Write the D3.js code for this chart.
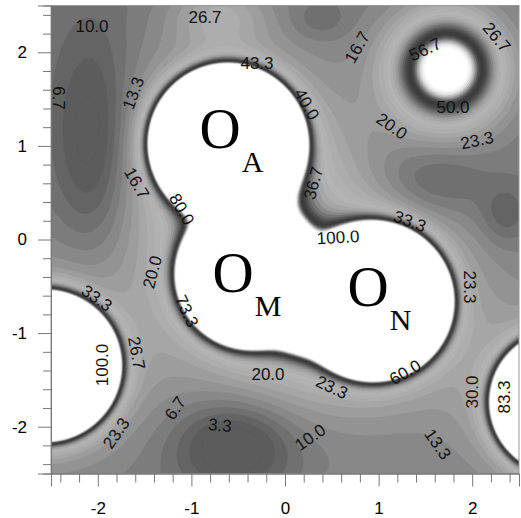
<!DOCTYPE html>
<html>
<head>
<meta charset="utf-8">
<script src="https://cdn.jsdelivr.net/npm/d3@7"></script>
<style>
  body { margin: 0; background: white; }
  svg text { font-family: "Liberation Sans", Arial, Helvetica, sans-serif; }
</style>
</head>
<body>
<div id="chart"></div>
<script>
// axis ticks
const xTicks = [-2, -1, 0, 1, 2];
const yTicks = [-2, -1, 0, 1, 2];

// white plateaus (atoms + bridges), data units
const blobX = [-0.61, -0.38, 0.95, -0.41, 0.26, -2.56, 2.96];
const blobY = [1.03, -0.38, -0.66, 0.37, -0.65, -1.35, -1.74];
const blobR = [0.83, 0.76, 0.83, 0.42, 0.53, 0.79, 0.75];

// small isolated peak, top right
const peakX = [1.725];
const peakY = [1.82];
const peakH = [85];
const peakS = [0.44];

// broad background humps and dips
const bumpX = [-0.70, -2.05, -0.55, 0.90, 1.54, 2.35, 0.37, 1.725];
const bumpY = [2.40, 1.05, -2.20, -3.21, 0.63, 0.26, 2.34, 1.82];
const bumpSx = [0.5, 0.42, 0.6, 0.55, 0.6, 0.25, 0.3, 0.75];
const bumpSy = [0.35, 1.1, 0.45, 0.5, 0.4, 0.3, 0.2, 0.75];
const bumpA = [14, -16, -18, 30, -10, -8, -5, 22];
const baseLevel = 9;

// gray shading of the value bands
const shadeValues = [0, 5, 10, 15, 20, 25, 30, 35, 40, 46, 52, 58, 64, 70, 76, 82, 88, 94, 100];
const shadeGrays = [88, 100, 118, 136, 152, 166, 176, 180, 172, 150, 115, 82, 62, 62, 95, 165, 222, 250, 255];

// contour labels: text, x, y (pixel positions), angle
const labelText = ["10.0", "26.7", "43.3", "6.7", "13.3", "16.7", "80.0",
  "16.7", "56.7", "26.7", "40.0", "20.0", "50.0", "23.3", "36.7", "33.3", "100.0",
  "20.0", "33.3", "73.3", "26.7", "100.0", "23.3", "6.7", "3.3",
  "20.0", "23.3", "60.0", "10.0", "13.3", "23.3", "30.0", "83.3"];
const labelPx = [92, 205, 257, 59, 133, 137, 182,
  357, 425, 497, 307, 392, 453, 477, 313, 410, 338,
  152, 97, 187, 137, 102, 116, 175, 220,
  268, 332, 405, 310, 438, 470, 472, 504];
const labelPy = [26, 17, 63, 98, 93, 183, 209,
  47, 49, 37, 104, 126, 107, 140, 183, 221, 237,
  272, 298, 311, 353, 365, 433, 408, 425,
  374, 387, 372, 437, 444, 287, 392, 397];
const labelAngle = [0, 0, 0, 90, -70, 60, 60,
  -60, -25, 50, 60, 35, 0, -12, -75, 20, -3,
  -75, 35, 65, 80, -90, -55, -55, 5,
  0, 25, -30, -35, 55, 90, -90, -90];

// atom labels: left/baseline of the "O" (data units)
const atomText = ["O", "O", "O"];
const atomSub = ["A", "M", "N"];
const atomX = [-0.913, -0.775, 0.668];
const atomY = [0.975, -0.563, -0.713];

const width = 521, height = 518;
const margin = {left: 51, top: 5.5, right: 2, bottom: 44.5};
const plotW = width - margin.left - margin.right;
const plotH = height - margin.top - margin.bottom;

const x = d3.scaleLinear().domain([-2.5, 2.5]).range([margin.left, margin.left + plotW]);
const y = d3.scaleLinear().domain([-2.5, 2.5]).range([margin.top + plotH, margin.top]);

// pixel -> data for the label tables
const labelX = labelPx.map(p => x.invert(p));
const labelY = labelPy.map(p => y.invert(p));

function field(px, py) {
  let v = baseLevel;
  for (let i = 0; i < blobX.length; i++) {
    const e = Math.hypot(px - blobX[i], py - blobY[i]) - blobR[i];
    v += 80 * Math.exp(-e / 0.07) + 16 * Math.exp(-Math.max(e, 0) / 0.45);
  }
  for (let i = 0; i < peakX.length; i++) {
    const r = Math.hypot(px - peakX[i], py - peakY[i]) / peakS[i];
    v += peakH[i] * Math.exp(-(r * r));
  }
  for (let i = 0; i < bumpX.length; i++) {
    const dx = (px - bumpX[i]) / bumpSx[i], dy = (py - bumpY[i]) / bumpSy[i];
    v += bumpA[i] * Math.exp(-(dx * dx + dy * dy));
  }
  return v;
}

const n = 260;
const step = 5 / n;
const values = new Float64Array(n * n);
for (let j = 0; j < n; j++) {
  for (let i = 0; i < n; i++) {
    values[i + j * n] = field(-2.5 + (i + 0.5) * step, 2.5 - (j + 0.5) * step);
  }
}

const bandStep = 100 / 30;
const levels = d3.range(0, 30).map(k => k * bandStep);
const gray = d3.scaleLinear().domain(shadeValues).range(shadeGrays).clamp(true);
const bandColor = t => { const g = Math.round(gray(t + bandStep / 2)); return `rgb(${g},${g},${g})`; };

const svg = d3.select("#chart").append("svg")
  .attr("width", width)
  .attr("height", height);

svg.append("rect").attr("width", width).attr("height", height).attr("fill", "white");

svg.append("clipPath").attr("id", "plotclip")
  .append("rect")
  .attr("x", margin.left).attr("y", margin.top)
  .attr("width", plotW).attr("height", plotH);

const proj = d3.geoTransform({
  point(gx, gy) {
    this.stream.point(x(-2.5 + gx * step), y(2.5 - gy * step));
  }
});
const path = d3.geoPath(proj);

const plot = svg.append("g").attr("clip-path", "url(#plotclip)");

plot.append("rect")
  .attr("x", margin.left).attr("y", margin.top)
  .attr("width", plotW).attr("height", plotH)
  .attr("fill", bandColor(0));

const contours = d3.contours().size([n, n]).thresholds(levels)(values);
plot.selectAll("path")
  .data(contours)
  .enter()
  .append("path")
  .attr("d", path)
  .attr("fill", d => d.value >= 100 - bandStep - 0.01 ? "white" : bandColor(d.value))
  .attr("stroke", d => d.value >= 100 - bandStep - 0.01 ? "white" : bandColor(d.value))
  .attr("stroke-width", 0.4);

// contour value labels
plot.selectAll(".clabel")
  .data(labelText)
  .enter()
  .append("text")
  .attr("class", "clabel")
  .attr("transform", (d, i) => `translate(${x(labelX[i])},${y(labelY[i])}) rotate(${labelAngle[i]})`)
  .attr("text-anchor", "middle")
  .attr("dy", "0.36em")
  .attr("font-size", 17)
  .attr("fill", "#111")
  .text(d => d);

// atom labels
const atoms = plot.selectAll(".atom")
  .data(atomText)
  .enter()
  .append("text")
  .attr("class", "atom")
  .attr("x", (d, i) => x(atomX[i]))
  .attr("y", (d, i) => y(atomY[i]))
  .style("font-family", "'Liberation Serif', 'Times New Roman', serif")
  .attr("font-size", 57)
  .attr("fill", "black");
atoms.append("tspan").text(d => d);
atoms.append("tspan")
  .attr("font-size", 30)
  .attr("dx", 1)
  .attr("dy", 24)
  .text((d, i) => atomSub[i]);

// frame
svg.append("rect")
  .attr("x", margin.left).attr("y", margin.top)
  .attr("width", plotW).attr("height", plotH)
  .attr("fill", "none")
  .attr("stroke", "#999")
  .attr("stroke-width", 1);

// axes
const minorTicks = d3.range(-24, 25, 2).map(k => k / 10).filter(v => Math.abs(v - Math.round(v)) > 1e-6);

function styleAxis(g) {
  g.select(".domain").attr("stroke", "#777");
  g.selectAll(".tick line").attr("stroke", "#777");
  g.selectAll("text").attr("font-size", 17).attr("fill", "black")
    .style("font-family", "'Liberation Sans', Arial, sans-serif");
}

svg.append("g")
  .attr("transform", `translate(0,${margin.top + plotH})`)
  .call(d3.axisBottom(x).tickValues(minorTicks).tickSize(9).tickFormat(""))
  .call(styleAxis);
svg.append("g")
  .attr("transform", `translate(0,${margin.top + plotH})`)
  .call(d3.axisBottom(x).tickValues(xTicks).tickSize(13).tickPadding(15).tickFormat(d3.format("d")))
  .call(styleAxis);

svg.append("g")
  .attr("transform", `translate(${margin.left},0)`)
  .call(d3.axisLeft(y).tickValues(minorTicks).tickSize(8).tickFormat(""))
  .call(styleAxis);
svg.append("g")
  .attr("transform", `translate(${margin.left},0)`)
  .call(d3.axisLeft(y).tickValues(yTicks).tickSize(13).tickPadding(11).tickFormat(d3.format("d")))
  .call(styleAxis);

svg.selectAll(".tick text").text(function () { return this.textContent.replace("−", "-"); });
</script>
</body>
</html>
